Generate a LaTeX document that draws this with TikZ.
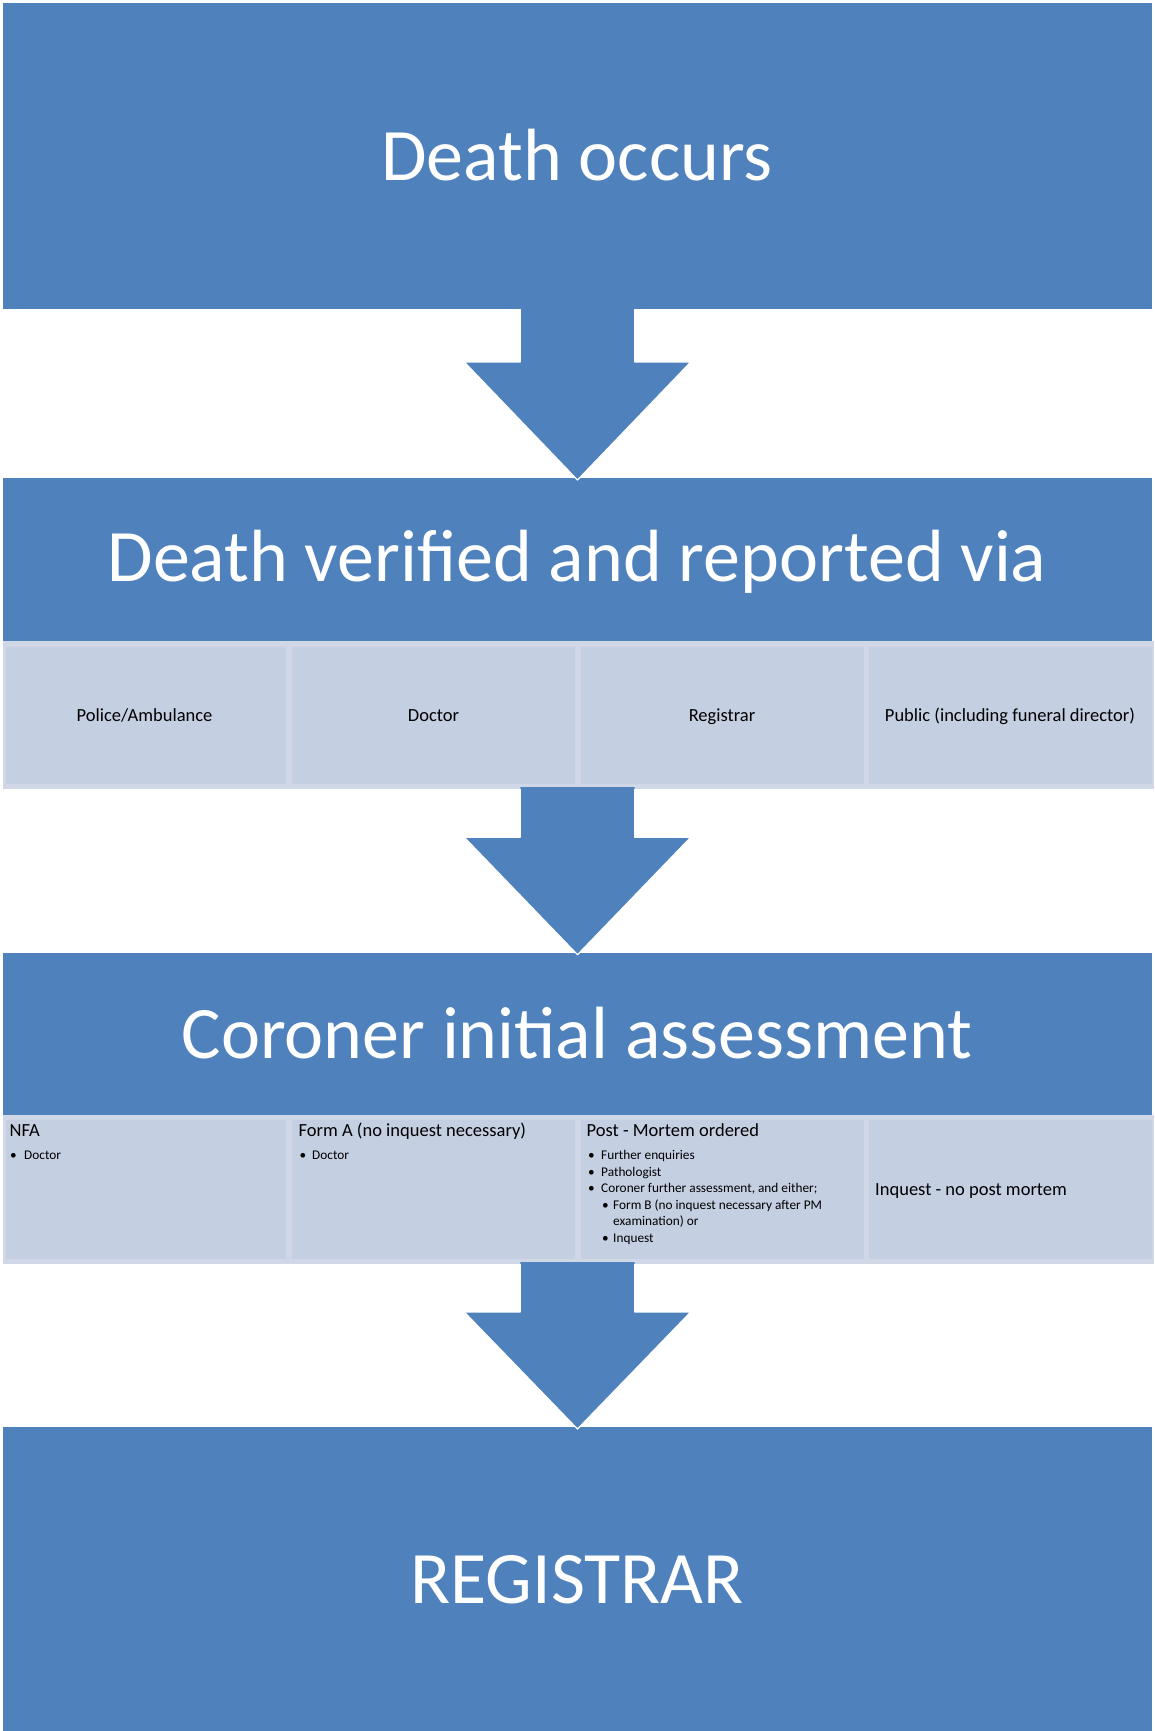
\documentclass[tikz,border=0pt]{standalone}
\usepackage{fontspec}
\setmainfont{Carlito}
\definecolor{boxblue}{RGB}{79,129,189}
\definecolor{cellfill}{RGB}{196,207,226}
\definecolor{cellborder}{RGB}{208,216,232}
\begin{document}
\begin{tikzpicture}[x=1pt,y=-1pt,
  titletext/.style={font=\fontsize{74}{80}\selectfont, text=white, anchor=base, inner sep=0pt},
  celltext/.style={font=\fontsize{18.5}{22}\selectfont, text=black, anchor=base, inner sep=0pt},
  headtext/.style={font=\fontsize{18.5}{22}\selectfont, text=black, anchor=base west, inner sep=0pt},
  itemtext/.style={font=\fontsize{13.3}{16}\selectfont, text=black, anchor=base west, inner sep=0pt},
  bigbox/.style={fill=boxblue},
  cellbg/.style={fill=cellborder},
  cellbox/.style={fill=cellfill},
  arrowbody/.style={fill=boxblue},
  arrowedge/.style={draw=white, line width=1.2pt, line join=round}]

\useasboundingbox (0,0) rectangle (1154,1731);
\fill[white] (0,0) rectangle (1154,1731);

% big blue boxes
\fill[bigbox] (2.5,3.5) coordinate (b1nw) rectangle (1152,309) coordinate (b1se);
\fill[bigbox] (2.5,478) coordinate (b2nw) rectangle (1152,641) coordinate (b2se);
\fill[bigbox] (2.5,952.7) coordinate (b3nw) rectangle (1152,1115) coordinate (b3se);
\fill[bigbox] (2.5,1427) coordinate (b4nw) rectangle (1152,1731) coordinate (b4se);

% row of cells under box 2
\fill[cellbg] (2.5,641) rectangle (1154,789);
\fill[cellbox] (5.5,647) rectangle (286,784);
\fill[cellbox] (292,647) rectangle (575,784);
\fill[cellbox] (580.5,647) rectangle (863.5,784);
\fill[cellbox] (869,647) rectangle (1151.7,784);

% row of cells under box 3
\fill[cellbg] (2.5,1115) rectangle (1154,1263.5);
\fill[cellbox] (5.5,1120) rectangle (286,1259);
\fill[cellbox] (292,1120) rectangle (575,1259);
\fill[cellbox] (580.5,1120) rectangle (863.5,1259);
\fill[cellbox] (869,1120) rectangle (1151.7,1259);

% block arrows
\fill[arrowbody] (520.3,305) -- (520.3,362) -- (464.3,362) -- (577.5,480) -- (690.7,362) -- (634.7,362) -- (634.7,305) -- cycle;
\draw[arrowedge] (520.3,309) -- (520.3,362) -- (464.3,362) -- (577.5,480) -- (690.7,362) -- (634.7,362) -- (634.7,309);

\fill[arrowbody] (520.3,787) -- (520.3,837.3) -- (464.3,837.3) -- (577.5,954.7) -- (690.7,837.3) -- (634.7,837.3) -- (634.7,787) -- cycle;
\draw[arrowedge] (520.3,789) -- (520.3,837.3) -- (464.3,837.3) -- (577.5,954.7) -- (690.7,837.3) -- (634.7,837.3) -- (634.7,789);

\fill[arrowbody] (520.3,1262) -- (520.3,1312) -- (464.3,1312) -- (577.5,1429) -- (690.7,1312) -- (634.7,1312) -- (634.7,1262) -- cycle;
\draw[arrowedge] (520.3,1264) -- (520.3,1312) -- (464.3,1312) -- (577.5,1429) -- (690.7,1312) -- (634.7,1312) -- (634.7,1264);

% titles
\node[titletext] (t1) at (577,180.5) {Death occurs};
\node[titletext] (t2) at (577,581) {Death verified and reported via};
\node[titletext] (t3) at (577,1058.4) {Coroner initial assessment};
\node[titletext] (t4) at (577,1603.5) {REGISTRAR};

% cells of box 2
\node[celltext] (c21) at (144.5,721.5) {Police/Ambulance};
\node[celltext] (c22) at (433.5,721.5) {Doctor};
\node[celltext] (c23) at (722,721.5) {Registrar};
\node[celltext] (c24) at (1010,721.5) {Public (including funeral director)};

% cells of box 3
\node[headtext] (h31) at (9.5,1136.5) {NFA};
\node[itemtext] (i311) at (10,1159.5) {\makebox[14pt][l]{\textbullet}Doctor};

\node[headtext] (h32) at (298.5,1136.5) {Form A (no inquest necessary)};
\node[itemtext] (i321) at (299.5,1159.5) {\makebox[12.5pt][l]{\textbullet}Doctor};

\node[headtext] (h33) at (586.5,1136.5) {Post - Mortem ordered};
\node[itemtext] (i331) at (588,1159.5) {\makebox[13pt][l]{\textbullet}Further enquiries};
\node[itemtext] (i332) at (588,1176.1) {\makebox[13pt][l]{\textbullet}Pathologist};
\node[itemtext] (i333) at (588,1192.7) {\makebox[13pt][l]{\textbullet}Coroner further assessment, and either;};
\node[itemtext] (i334) at (602,1209.3) {\makebox[11pt][l]{\textbullet}Form B (no inquest necessary after PM};
\node[itemtext] (i335) at (613,1225.9) {examination) or};
\node[itemtext] (i336) at (602,1242.5) {\makebox[11pt][l]{\textbullet}Inquest};

\node[headtext] (h34) at (875,1195) {Inquest - no post mortem};
\end{tikzpicture}
\end{document}
